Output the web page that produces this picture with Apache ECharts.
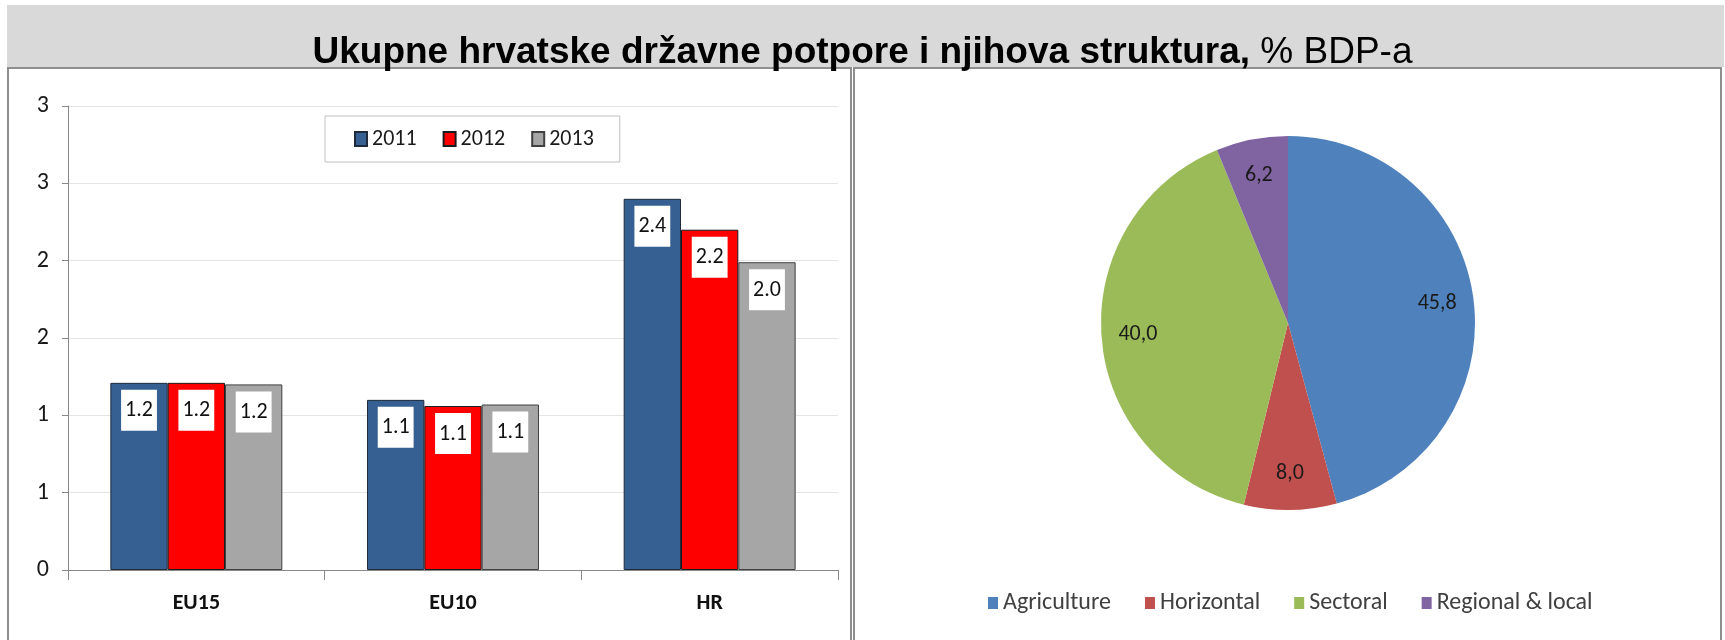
<!DOCTYPE html>
<html>
<head>
<meta charset="utf-8">
<script src="https://cdn.jsdelivr.net/npm/echarts@6/dist/echarts.min.js"></script>
<style>
  html, body { margin: 0; padding: 0; background: #fff; }
  #chart { width: 1725px; height: 640px; }
</style>
</head>
<body>
<div id="chart"></div>
<script>
// ---- data ----
const categories = ['EU15', 'EU10', 'HR'];
const years = ['2011', '2012', '2013'];
const values2011 = [1.21, 1.10, 2.40];
const values2012 = [1.21, 1.06, 2.20];
const values2013 = [1.20, 1.07, 1.99];
const yTickLabels = ['0', '1', '1', '2', '2', '3', '3'];
const pieNames = ['Agriculture', 'Horizontal', 'Sectoral', 'Regional & local'];
const pieValues = [45.8, 8.0, 40.0, 6.2];

const barColors = ['#376092', '#FF0000', '#A6A6A6'];
const barBorders = ['#1e2a3a', '#1a1a1a', '#404040'];
const pieColors = ['#4F81BD', '#C0504D', '#9BBB59', '#8064A2'];
const FONT = 'Carlito, Lato, sans-serif';

const chart = echarts.init(document.getElementById('chart'), null, { renderer: 'canvas' });

const barSeries = [values2011, values2012, values2013].map((vals, i) => ({
  name: years[i],
  type: 'bar',
  data: vals,
  barGap: '0%',
  barCategoryGap: '33%',
  itemStyle: { color: barColors[i], borderColor: barBorders[i], borderWidth: 1 },
  label: {
    show: true,
    position: 'insideTop',
    distance: 7,
    formatter: p => p.value.toFixed(1),
    backgroundColor: '#fff',
    padding: [9, 4, 8, 4],
    lineHeight: 24,
    color: '#111',
    fontFamily: FONT,
    fontSize: 22
  },
  emphasis: { disabled: true }
}));

const pieData = pieNames.map((n, i) => ({ name: n, value: pieValues[i], itemStyle: { color: pieColors[i] } }));
const pieLabelData = pieNames.map((n, i) => ({ name: n, value: pieValues[i] }));

const option = {
  backgroundColor: '#fff',
  animation: false,
  title: {
    left: 'center',
    top: 34,
    padding: 0,
    text: '{b|Ukupne hrvatske državne potpore i njihova struktura, }{n|% BDP-a}',
    textStyle: {
      rich: {
        b: { fontFamily: '"Liberation Sans", Arial, sans-serif', fontWeight: 'bold', fontSize: 37, color: '#000' },
        n: { fontFamily: '"Liberation Sans", Arial, sans-serif', fontWeight: 'normal', fontSize: 37, color: '#000' }
      }
    }
  },
  graphic: [
    { type: 'rect', z: -10, shape: { x: 7, y: 5, width: 1717, height: 62 }, style: { fill: '#d9d9d9' } },
    { type: 'rect', z: -9, shape: { x: 8, y: 68, width: 843, height: 620 }, style: { fill: '#fff', stroke: '#8f8f8f', lineWidth: 2 } },
    { type: 'rect', z: -9, shape: { x: 854, y: 68, width: 867, height: 620 }, style: { fill: '#fff', stroke: '#8f8f8f', lineWidth: 2 } }
  ],
  legend: [
    {
      data: years,
      left: 325,
      top: 116,
      orient: 'horizontal',
      icon: 'rect',
      itemWidth: 12,
      itemHeight: 14,
      itemGap: 26,
      padding: [12, 26, 12, 29],
      backgroundColor: '#fff',
      borderColor: '#c0c0c0',
      borderWidth: 1,
      textStyle: { fontFamily: FONT, fontSize: 22, color: '#1a1a1a' }
    },
    {
      data: pieNames,
      left: 988,
      top: 591,
      padding: 0,
      icon: 'rect',
      itemWidth: 10,
      itemHeight: 12,
      itemGap: 34,
      textStyle: { fontFamily: FONT, fontSize: 24, color: '#404040' }
    }
  ],
  grid: { left: 68, right: 887, top: 106, bottom: 70, containLabel: false },
  xAxis: {
    type: 'category',
    data: categories,
    axisLine: { show: true, lineStyle: { color: '#888', width: 1 } },
    axisTick: { show: true, length: 10, lineStyle: { color: '#888' } },
    axisLabel: { fontFamily: FONT, fontSize: 22, fontWeight: 'bold', color: '#111', margin: 22 }
  },
  yAxis: {
    type: 'value',
    min: 0,
    max: 3,
    interval: 0.5,
    axisLine: { show: true, lineStyle: { color: '#888', width: 1 } },
    axisTick: { show: true, length: 6, lineStyle: { color: '#888' } },
    splitLine: { show: true, lineStyle: { color: '#e4e4e4', width: 1 } },
    axisLabel: {
      fontFamily: FONT, fontSize: 24, color: '#1a1a1a', margin: 19,
      formatter: v => yTickLabels[Math.round(v / 0.5)]
    }
  },
  series: [
    ...barSeries,
    {
      name: 'structure',
      type: 'pie',
      center: [1288, 323],
      radius: [0, 187],
      startAngle: 90,
      clockwise: true,
      data: pieData,
      label: { show: false },
      labelLine: { show: false },
      itemStyle: { borderWidth: 0 },
      emphasis: { disabled: true }
    },
    {
      name: 'structureLabels',
      type: 'pie',
      center: [1288, 323],
      radius: [108, 187],
      startAngle: 90,
      clockwise: true,
      silent: true,
      data: pieLabelData,
      itemStyle: { color: 'rgba(0,0,0,0)', borderWidth: 0 },
      label: {
        show: true,
        position: 'inside',
        formatter: p => p.value.toFixed(1).replace('.', ','),
        fontFamily: FONT,
        fontSize: 22,
        color: '#1a1a1a'
      },
      labelLine: { show: false },
      emphasis: { disabled: true }
    }
  ]
};

chart.setOption(option);
</script>
</body>
</html>
